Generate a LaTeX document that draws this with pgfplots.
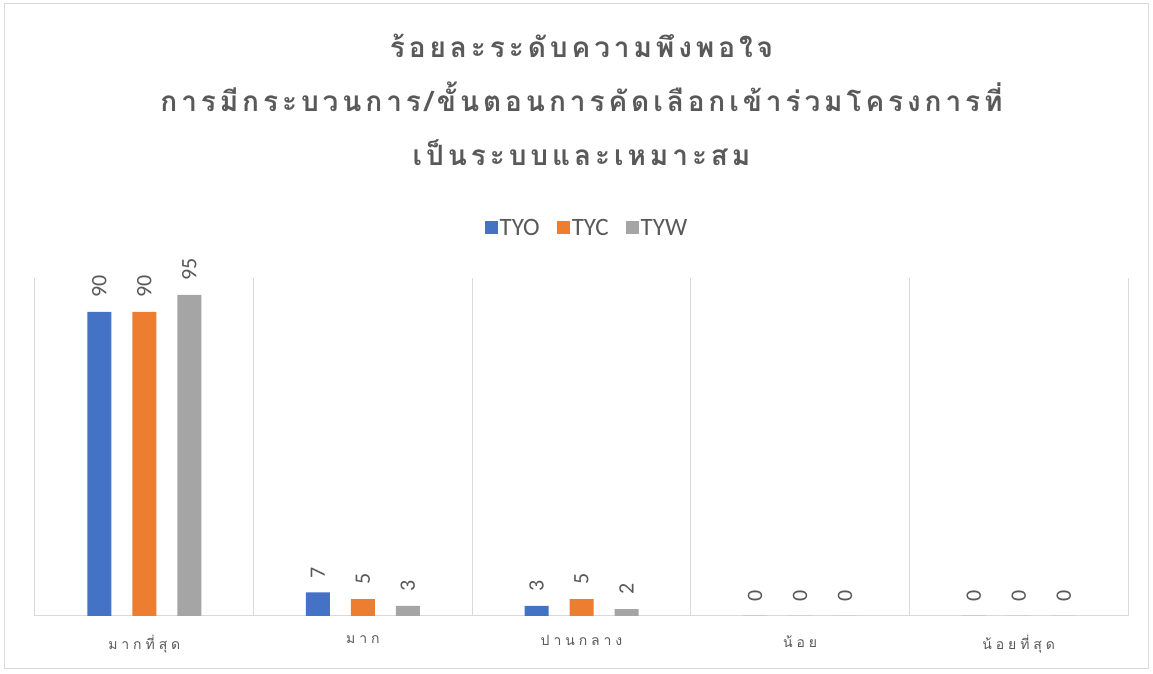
\documentclass[border=0pt]{standalone}
\usepackage{fontspec}
\setmainfont{Carlito}
\newfontfamily\thaititle[Script=Thai,LetterSpace=14]{Loma}
\newfontfamily\thaitick[Script=Thai,LetterSpace=28]{Loma}
\usepackage{pgfplots}
\pgfplotsset{compat=1.18}
\definecolor{cblue}{HTML}{4472C4}
\definecolor{corange}{HTML}{ED7D31}
\definecolor{cgrey}{HTML}{A5A5A5}
\definecolor{gridc}{HTML}{D9D9D9}
\definecolor{txt}{HTML}{595959}
\begin{document}
\begin{tikzpicture}[x=1pt,y=1pt]
\useasboundingbox (-35,-58) rectangle (1118,616);
\draw[gridc, line width=1pt] (-30,-52) rectangle (1113,612);
\begin{axis}[
  at={(0,0)}, anchor=south west,
  scale only axis, width=1093pt, height=338pt,
  xmin=-0.5, xmax=4.5, ymin=0, ymax=100,
  /pgf/number format/assume math mode=true,
  axis y line=none,
  axis x line*=bottom,
  x axis line style={gridc, line width=1pt, -},
  xtick={0,1,2,3,4},
  xticklabels={มากที่สุด, มาก, ปานกลาง, น้อย, น้อยที่สุด},
  xticklabel style={font=\thaitick\fontsize{14}{16}\selectfont, text=txt, yshift=-16pt},
  major tick length=0pt,
  minor xtick={-0.5,0.5,1.5,2.5,3.5,4.5},
  xminorgrids=true,
  minor grid style={gridc, line width=1pt},
  minor tick length=0pt,
  ybar=21pt, bar width=24pt,
  nodes near coords,
  every node near coord/.append style={rotate=90, anchor=west, font=\fontsize{22}{24}\selectfont, text=txt, outer xsep=11pt},
  legend style={at={(0.505,1.148)}, anchor=center, draw=none, legend columns=-1, font=\fontsize{25}{27}\selectfont, text=txt,
    /tikz/every even column/.append style={column sep=15pt},
    nodes={inner xsep=2pt}},
  legend image code/.code={\fill[#1] (0pt,-6.5pt) rectangle (13pt,6.5pt);},
  title={ร้อยละระดับความพึงพอใจ\\การมีกระบวนการ/ขั้นตอนการคัดเลือกเข้าร่วมโครงการที่\\เป็นระบบและเหมาะสม},
  title style={at={(0.5,1.508)}, anchor=center, align=center, text=txt, font=\thaititle\bfseries\fontsize{28}{54}\selectfont},
]
\addplot[fill=cblue, draw=none] coordinates {(0,90) (1,7) (2,3) (3,0) (4,0)};
\addplot[fill=corange, draw=none] coordinates {(0,90) (1,5) (2,5) (3,0) (4,0)};
\addplot[fill=cgrey, draw=none] coordinates {(0,95) (1,3) (2,2) (3,0) (4,0)};
\legend{TYO, TYC, TYW}
\end{axis}
\end{tikzpicture}
\end{document}
